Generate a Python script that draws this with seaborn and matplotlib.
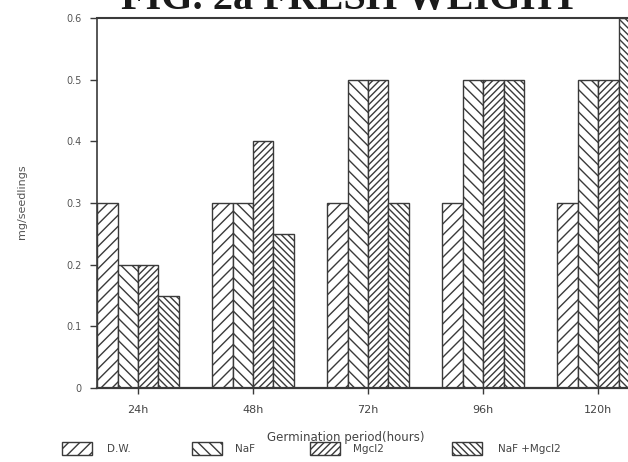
import matplotlib
matplotlib.use("Agg")
import matplotlib.pyplot as plt
from matplotlib.patches import Rectangle
import pandas as pd
import seaborn as sns

# Fresh weight of seedlings over the germination period
periods = ["24h", "48h", "72h", "96h", "120h"]
treatments = ["D.W.", "NaF", "Mgcl2", "NaF +Mgcl2"]
dw = [0.30, 0.30, 0.30, 0.30, 0.30]
naf = [0.20, 0.30, 0.50, 0.50, 0.50]
mgcl2 = [0.20, 0.40, 0.50, 0.50, 0.50]
naf_mgcl2 = [0.15, 0.25, 0.30, 0.50, 0.60]
y_ticks = [0, 0.1, 0.2, 0.3, 0.4, 0.5, 0.6]
y_tick_labels = ["0", "0.1", "0.2", "0.3", "0.4", "0.5", "0.6"]

title = "FIG. 2a FRESH WEIGHT"
x_label = "Germination period(hours)"
y_label = "mg/seedlings"

series = [dw, naf, mgcl2, naf_mgcl2]
df = pd.DataFrame({
    "period": [p for _ in treatments for p in periods],
    "treatment": [t for t in treatments for _ in periods],
    "value": [v for s in series for v in s],
})

sns.set_theme(style="white")
plt.rcParams["font.family"] = ["DejaVu Sans"]
ink = "#3a3a3a"
plt.rcParams["hatch.color"] = ink
plt.rcParams["hatch.linewidth"] = 1.0

W, H = 628, 462
fig = plt.figure(figsize=(W / 100, H / 100), dpi=100)
fig.patch.set_facecolor("white")
ax = fig.add_axes([97 / W, 1 - 388 / H, 1 - 97 / W, (388 - 18) / H])

sns.barplot(data=df, x="period", y="value", hue="treatment",
            order=periods, hue_order=treatments,
            palette=["white"] * 4, saturation=1, width=0.71,
            edgecolor=ink, linewidth=1.0, errorbar=None,
            legend=False, ax=ax)

# sparse and dense diagonal hatching, alternating direction
hatches = ["///", "\\\\\\", "/////", "\\\\\\\\\\"]
for cont, h in zip(ax.containers, hatches):
    for bar in cont:
        bar.set_hatch(h)

ax.set_xlim(-0.357, 4.26)
ax.set_ylim(0, 0.6)
ax.set_yticks(y_ticks)
ax.set_yticklabels(y_tick_labels)
ax.set_xlabel("")
ax.set_ylabel("")

for side in ["left", "bottom", "top"]:
    ax.spines[side].set_visible(True)
    ax.spines[side].set_color(ink)
ax.spines["left"].set_linewidth(1.2)
ax.spines["top"].set_linewidth(1.5)
ax.spines["bottom"].set_linewidth(1.6)
ax.spines["right"].set_visible(False)

ax.tick_params(axis="y", direction="out", length=5, width=1, color=ink,
               labelsize=7, labelcolor="#555555", pad=6, left=True)
ax.tick_params(axis="x", direction="inout", length=8, width=1, color=ink,
               labelsize=8, labelcolor="#444444", pad=8, bottom=True)

fig.text(22 / W, 1 - 202 / H, y_label, rotation=90, ha="center", va="center",
         fontsize=8, color="#555555")
fig.text(346 / W, 1 - 437 / H, x_label, ha="center", va="center",
         fontsize=8.5, color="#444444")

fig.text(350 / W, 1 - 9 / H, title, ha="center", va="baseline",
         fontfamily="Liberation Serif", fontweight="bold", fontsize=29,
         color="#1a1a1a")

# Legend: hatched swatches with their labels along the bottom
box_x = [62, 192, 310, 452]
text_x = [107, 235, 353, 498]
for bx, tx, lab, h in zip(box_x, text_x, treatments, hatches):
    fig.add_artist(Rectangle((bx / W, 1 - 455 / H), 30 / W, 13 / H,
                             transform=fig.transFigure, facecolor="white",
                             edgecolor=ink, linewidth=1.0, hatch=h))
    fig.text(tx / W, 1 - 449 / H, lab, ha="left", va="center",
             fontsize=7.5, color="#444444")

fig.savefig("out.png", dpi=100, facecolor="white")
